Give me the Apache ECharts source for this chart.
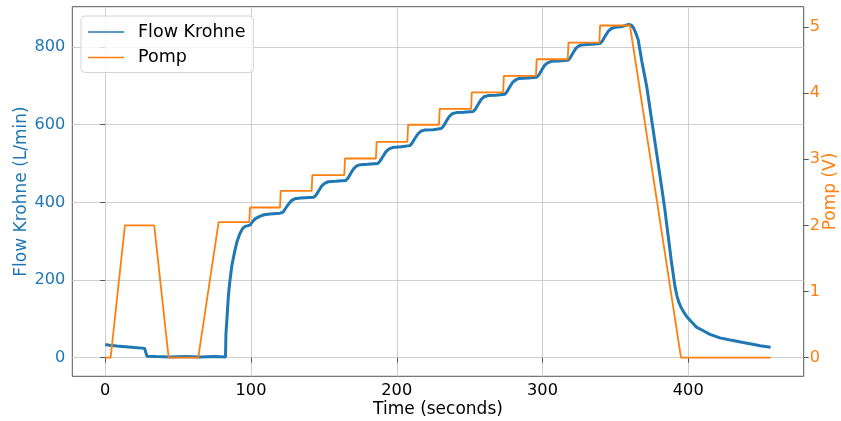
<!DOCTYPE html>
<html>
<head>
<meta charset="utf-8">
<script src="https://cdn.jsdelivr.net/npm/echarts@6/dist/echarts.min.js"></script>
<style>
  html, body { margin: 0; padding: 0; background: #fff; }
  #chart { width: 841px; height: 421px; }
</style>
</head>
<body>
<div id="chart"></div>
<script>
// Flow meter reading (L/min) against time (s)
const flowTime = [
  0, 3, 8, 14, 20, 27, 28.3, 28.6, 29, 35, 45, 55, 65, 75, 82.5, 82.8, 83.5, 84.5, 85.6, 87, 89, 90.5, 92.4, 94.3, 96, 98,
  99.5, 101, 103, 106, 109, 113, 120, 122, 124, 126, 128, 130, 134, 143, 144.5, 146.5, 148.5, 150.5, 153, 158,
  165, 166.5, 168.5, 170.5, 172.5, 175, 180, 187, 188.5, 190.5, 192.5, 194.5, 197, 203, 209, 210.5, 212.5, 214.5,
  216.5, 219, 225, 230.5, 232, 234, 236, 238, 241, 246, 252.5, 254, 256, 258, 260, 263, 268, 274, 275.5, 277.5,
  279.5, 281.5, 284, 290, 296, 297.5, 299.5, 301.5, 303.5, 306, 311, 317.5, 319, 321, 323, 325, 328, 334, 339.5,
  341, 343, 345, 347, 350, 355, 359, 361, 362.3, 364, 365.7, 368, 371.5, 374.9, 378.3, 381.7, 384, 386.3, 388.6,
  390.9, 392.2, 393.5, 395, 396.8, 398.9, 402, 405.8, 410, 414.9, 421.7, 428, 437.7, 445, 449.2, 456.5
];
const flowValues = [
  34, 32, 30, 28, 26, 24, 22, 4, 3, 3, 2, 3, 2, 3, 2, 60, 100, 160, 200, 240, 277, 300, 320, 333, 338, 340,
  342, 350, 358, 364, 368, 370, 372, 375, 386, 397, 405, 409, 411, 413, 418, 430, 442, 449, 453, 454,
  456, 462, 475, 487, 494, 497, 498, 500, 506, 518, 530, 537, 541, 543, 546, 552, 565, 576,
  583, 586, 587, 590, 596, 609, 621, 628, 631, 632, 634, 640, 653, 665, 672, 675, 676, 678, 684, 697,
  709, 715, 719, 720, 722, 728, 741, 753, 759, 763, 764, 766, 772, 785, 797, 803, 806, 807, 809,
  815, 828, 840, 847, 851, 853, 858, 856, 850, 836, 818, 766, 698, 612, 526, 440, 380, 311, 243,
  183, 160, 143, 130, 118, 106, 93, 78, 70, 60, 51, 46, 39, 34, 31, 27
];

// Pump control voltage (V) against time (s)
const pumpTime = [
  0, 3.7, 13.5, 33.6, 43.5, 63.8, 77.8, 98.8, 99.3, 119.9, 120.4, 141.6, 142.1, 164, 164.5, 185.7, 186.2,
  207.3, 207.8, 229, 229.5, 251, 251.5, 273, 273.5, 295.5, 296, 317.3, 317.8, 339, 339.5, 360, 395, 456.5
];
const pumpValues = [
  0, 0, 2.0, 2.0, 0, 0, 2.05, 2.05, 2.27, 2.27, 2.52, 2.52, 2.76, 2.76, 3.01, 3.01, 3.26,
  3.26, 3.52, 3.52, 3.76, 3.76, 4.01, 4.01, 4.26, 4.26, 4.51, 4.51, 4.76, 4.76, 5.02, 5.02, 0, 0
];

const timeTicks = [0, 100, 200, 300, 400];
const flowTicks = [0, 200, 400, 600, 800];
const pumpTicks = [0, 1, 2, 3, 4, 5];

const BLUE = '#1f77b4';
const ORANGE = '#ff7f0e';
const FONT = 'DejaVu Sans';
const TICK_FS = 16.2;
const NAME_FS = 17;
const LEGEND_FS = 17.5;

const flowData = flowTime.map((t, i) => [t, flowValues[i]]);
const pumpData = pumpTime.map((t, i) => [t, pumpValues[i]]);

const chart = echarts.init(document.getElementById('chart'), null, { renderer: 'canvas' });

chart.setOption({
  animation: false,
  backgroundColor: '#ffffff',
  grid: {
    left: 72.3, right: 37.3, top: 6.7, bottom: 44.7,
    show: true, borderColor: '#555555', borderWidth: 1,
    containLabel: false, outerBoundsMode: 'none'
  },
  legend: {
    left: 81, top: 16, orient: 'vertical',
    padding: [7, 8, 6, 7],
    itemGap: 7.5, itemWidth: 36, itemHeight: 1.6,
    icon: 'rect',
    backgroundColor: 'rgba(255,255,255,0.8)',
    borderColor: '#d4d4d4', borderWidth: 1, borderRadius: 4,
    textStyle: { fontFamily: FONT, fontSize: LEGEND_FS, color: '#000', padding: [0, 0, 0, 9] },
    data: ['Flow Krohne', 'Pomp']
  },
  xAxis: {
    type: 'value',
    min: -22.6, max: 479.2,
    name: 'Time (seconds)', nameLocation: 'middle', nameGap: 25, nameMoveOverlap: false,
    nameTextStyle: { fontFamily: FONT, fontSize: NAME_FS, color: '#000' },
    axisLine: { show: false },
    axisTick: { show: true, length: 5, lineStyle: { color: '#555' }, customValues: timeTicks },
    axisLabel: { fontFamily: FONT, fontSize: TICK_FS, color: '#000', margin: 6, customValues: timeTicks },
    splitLine: { show: true, lineStyle: { color: '#cfcfcf', width: 1 } }
  },
  yAxis: [
    {
      type: 'value', position: 'left',
      min: -47.9, max: 903.7,
      name: 'Flow Krohne (L/min)', nameLocation: 'middle', nameGap: 42, nameMoveOverlap: false,
      nameTextStyle: { fontFamily: FONT, fontSize: NAME_FS, color: BLUE },
      axisLine: { show: false },
      axisTick: { show: true, length: 5, lineStyle: { color: '#555' }, customValues: flowTicks },
      axisLabel: { fontFamily: FONT, fontSize: TICK_FS, color: BLUE, margin: 7, customValues: flowTicks },
      splitLine: { show: true, lineStyle: { color: '#cfcfcf', width: 1 } }
    },
    {
      type: 'value', position: 'right',
      min: -0.281, max: 5.304,
      name: 'Pomp (V)', nameLocation: 'middle', nameGap: 18, nameMoveOverlap: false,
      nameTextStyle: { fontFamily: FONT, fontSize: NAME_FS, color: ORANGE },
      axisLine: { show: false },
      axisTick: { show: true, length: 5, lineStyle: { color: '#555' }, customValues: pumpTicks },
      axisLabel: { fontFamily: FONT, fontSize: TICK_FS, color: ORANGE, margin: 6, customValues: pumpTicks },
      splitLine: { show: false }
    }
  ],
  series: [
    {
      name: 'Flow Krohne', type: 'line', yAxisIndex: 0,
      data: flowData, symbol: 'none', smooth: false,
      lineStyle: { color: BLUE, width: 3 },
      itemStyle: { color: BLUE }
    },
    {
      name: 'Pomp', type: 'line', yAxisIndex: 1,
      data: pumpData, symbol: 'none', smooth: false,
      lineStyle: { color: ORANGE, width: 1.8 },
      itemStyle: { color: ORANGE }
    }
  ]
});
</script>
</body>
</html>
